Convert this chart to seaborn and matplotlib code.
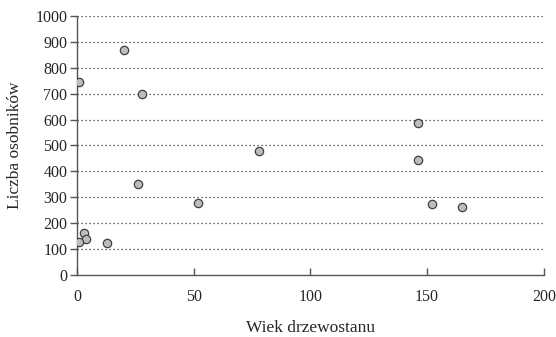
import matplotlib
matplotlib.use("Agg")
import matplotlib.pyplot as plt
import pandas as pd
import seaborn as sns

# stand age vs. number of individuals
wiek = [1, 20, 28, 78, 146, 146, 26, 52, 152, 165, 3, 4, 1, 13]
liczba = [745, 867, 700, 478, 587, 443, 351, 278, 274, 263, 163, 139, 128, 125]

x_ticks = [0, 50, 100, 150, 200]
y_ticks = [0, 100, 200, 300, 400, 500, 600, 700, 800, 900, 1000]

df = pd.DataFrame({"wiek": wiek, "liczba": liczba})

sns.set_style("white")
plt.rcParams["font.family"] = ["Liberation Serif", "DejaVu Serif"]

fig = plt.figure(figsize=(5.56, 3.37), dpi=100)
ax = fig.add_axes([0.1385, 0.184, 0.8395, 0.7685])

for v in y_ticks[1:]:
    ax.axhline(v, color="#333333", linestyle=(0, (1.0, 2.2)), linewidth=0.9, zorder=1)

sns.scatterplot(data=df, x="wiek", y="liczba", ax=ax, s=36, color="#bdbdbd",
                edgecolor="#404040", linewidth=0.9, zorder=3, legend=False)

ax.set_xlim(0, 200)
ax.set_ylim(0, 1000)
ax.set_xticks(x_ticks)
ax.set_yticks(y_ticks)
ax.set_xlabel("Wiek drzewostanu", fontsize=12.5, labelpad=11)
ax.set_ylabel("Liczba osobników", fontsize=12.5, labelpad=9)

for side in ["top", "right"]:
    ax.spines[side].set_visible(False)
for side in ["left", "bottom"]:
    ax.spines[side].set_color("#555555")
    ax.spines[side].set_linewidth(1.0)

ax.tick_params(axis="y", direction="out", length=5, width=1, color="#555555",
               labelsize=11.5, left=True, pad=2)
ax.tick_params(axis="x", direction="in", length=5, width=1, color="#555555",
               labelsize=11.5, bottom=True, pad=10)

fig.savefig("out.png", dpi=100)
